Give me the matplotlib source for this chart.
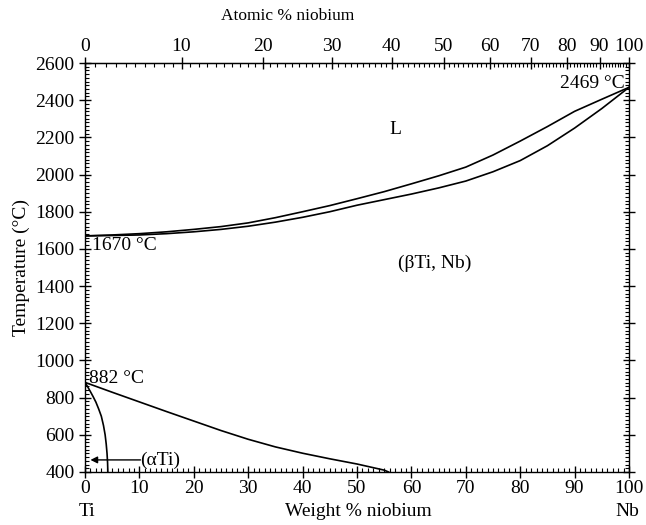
import numpy as np
import matplotlib.pyplot as plt
from matplotlib.ticker import MultipleLocator, FixedLocator

plt.rcParams['font.family'] = ['Liberation Serif', 'DejaVu Serif']

# liquidus / solidus (wt.% Nb, deg C)
wt_ls = [0, 5, 10, 15, 20, 25, 30, 35, 40, 45, 50, 55, 60, 65, 70, 75, 80, 85, 90, 95, 100]
liquidus = [1670, 1675, 1682, 1692, 1705, 1720, 1740, 1768, 1800, 1833, 1870, 1908,
            1950, 1993, 2040, 2105, 2180, 2258, 2340, 2405, 2469]
solidus = [1670, 1672, 1675, 1682, 1692, 1705, 1722, 1744, 1770, 1800, 1835, 1865,
           1895, 1928, 1965, 2015, 2075, 2155, 2250, 2355, 2469]

# beta transus
wt_beta = [0, 5, 10, 15, 20, 25, 30, 35, 40, 45, 50, 55, 55.8]
t_beta = [882, 829, 777, 725, 674, 623, 576, 535, 501, 471, 443, 410, 400]

# alpha / alpha+beta boundary
wt_alpha = [0, 0.5, 1.0, 1.5, 2.0, 2.5, 3.0, 3.4, 3.7, 3.9, 4.05, 4.15, 4.2]
t_alpha = [882, 858, 832, 805, 776, 740, 700, 650, 600, 550, 500, 450, 400]

at_ticks = list(range(0, 101, 10))

M_TI = 47.867
M_NB = 92.906


def wt_to_at(w):
    w = np.asarray(w, dtype=float)
    a = w / M_NB
    b = (100 - w) / M_TI
    return 100 * a / (a + b)


def at_to_wt(a):
    a = np.asarray(a, dtype=float)
    n = a * M_NB
    m = (100 - a) * M_TI
    return 100 * n / (n + m)


fig = plt.figure(figsize=(6.46, 5.25), dpi=100)
ax = fig.add_axes([85 / 646, 53 / 525, 544 / 646, 409 / 525])

lw = 1.2
ax.plot(wt_ls, liquidus, color='black', lw=lw)
ax.plot(wt_ls, solidus, color='black', lw=lw)
ax.plot(wt_beta, t_beta, color='black', lw=lw)
ax.plot(wt_alpha, t_alpha, color='black', lw=lw)

ax.set_xlim(0, 100)
ax.set_ylim(400, 2600)

fs = 14
ax.text(57, 2240, 'L', fontsize=fs, ha='center', va='center')
ax.text(64.3, 1524, '(βTi, Nb)', fontsize=fs, ha='center', va='center')
ax.text(1.3, 1621, '1670 °C', fontsize=fs, ha='left', va='center')
ax.text(0.7, 905, '882 °C', fontsize=fs, ha='left', va='center')
ax.text(99.3, 2492, '2469 °C', fontsize=fs, ha='right', va='center')
ax.text(10.1, 465, '(αTi)', fontsize=fs, ha='left', va='center')
ax.annotate('', xy=(1.0, 465), xytext=(10.2, 465),
            arrowprops=dict(arrowstyle='-|>', color='black', lw=1.0,
                            mutation_scale=10, shrinkA=0, shrinkB=0))

ax.xaxis.set_major_locator(MultipleLocator(10))
ax.xaxis.set_minor_locator(MultipleLocator(1))
ax.yaxis.set_major_locator(MultipleLocator(200))
ax.yaxis.set_minor_locator(MultipleLocator(20))
ax.tick_params(which='major', direction='inout', length=8, width=1, labelsize=fs,
               right=True, top=False)
ax.tick_params(which='minor', direction='in', length=3, width=0.8,
               right=True, top=False)
ax.tick_params(axis='x', pad=2)
for s in ax.spines.values():
    s.set_linewidth(1.0)

sec = ax.secondary_xaxis('top', functions=(wt_to_at, at_to_wt))
sec.xaxis.set_major_locator(FixedLocator(at_ticks))
sec.xaxis.set_minor_locator(FixedLocator(list(range(0, 101))))
sec.tick_params(which='major', direction='inout', length=8, width=1, labelsize=fs, pad=2)
sec.tick_params(which='minor', direction='in', length=3, width=0.8)

ax.set_ylabel('Temperature (°C)', fontsize=fs, labelpad=4)
fig.text(358 / 646, 1 - 511 / 525, 'Weight % niobium', fontsize=fs, ha='center', va='center')
fig.text(87 / 646, 1 - 511 / 525, 'Ti', fontsize=fs, ha='center', va='center')
fig.text(627 / 646, 1 - 511 / 525, 'Nb', fontsize=fs, ha='center', va='center')
fig.text(288 / 646, 1 - 16 / 525, 'Atomic % niobium', fontsize=12.5, ha='center', va='center')

fig.savefig('out.png', dpi=100)
